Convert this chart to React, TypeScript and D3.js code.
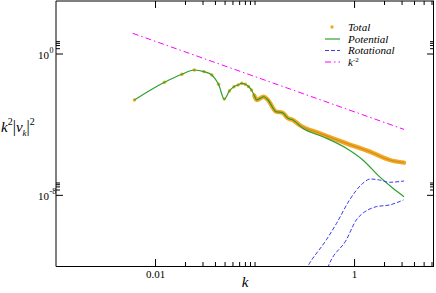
import React from 'react';
import * as d3 from 'd3';

// spectra (k, k^2 |v_k|^2)
const kTotal = [0.00614, 0.0123, 0.0184, 0.0245, 0.0307, 0.0368, 0.043, 0.0491, 0.0552, 0.0614, 0.0675,
  0.0736, 0.0798, 0.0859, 0.092, 0.0982, 0.104, 0.122, 0.135, 0.163, 0.188, 0.214, 0.24, 0.28, 0.445,
  0.826, 1.42, 2.25, 3.14];
const vTotal = [2.5e-3, 0.025, 0.071, 0.124, 0.1, 0.065, 0.0193, 0.0028, 0.0081, 0.0141, 0.0176,
  0.022, 0.0193, 0.0145, 0.0092, 0.0045, 0.0025, 0.0038, 0.0025, 5.4e-4, 4.8e-4, 2.3e-4, 1.84e-4, 9.6e-5, 3.25e-5,
  8.8e-6, 2.96e-6, 1.0e-6, 7.05e-7];

const kPotTail = [0.302, 0.48, 0.826, 1.21, 1.78, 2.43, 3.14];
const vPotTail = [6.2e-5, 2.09e-5, 4.6e-6, 1.0e-6, 1.14e-7, 2.5e-8, 8.4e-9];

const kRotA = [0.322, 0.353, 0.52, 0.659, 0.891, 1.21, 1.44, 1.78, 2.25, 3.14];
const vRotA = [6e-13, 1.43e-12, 3.0e-11, 2.6e-10, 5.5e-9, 4.8e-8, 8.4e-8, 7.4e-8, 5.5e-8, 6.5e-8];
const kRotB = [0.536, 0.561, 0.826, 1.04, 1.21, 1.36, 1.65, 2.25, 3.1];
const vRotB = [7.7e-13, 1.43e-12, 3.0e-11, 4.0e-10, 9.7e-10, 1.49e-9, 2.28e-9, 2.85e-9, 5.5e-9];

const kRef = [0.0059, 3.14];
const vRef = [14.8, 5.4e-5];

const xMajor = [0.01, 1];
const xMajorLabels = ['0.01', '1'];
const xMinor = [0.02, 0.03, 0.04, 0.05, 0.06, 0.07, 0.08, 0.09, 0.1, 2, 3, 4, 5, 6];
const yMajor = [1, 1e-8];
const yMajorExp = ['0', '-8'];
const yMinor = [2, 3, 4, 5, 2e-8, 3e-8, 4e-8, 5e-8];

const legendItems = ['Total', 'Potential', 'Rotational', 'k'];

const ORANGE = '#f5a623';
const GREEN = '#2ca02c';
const BLUE = '#3a3aee';
const MAGENTA = '#ff00ff';

export default function App() {
  const W = 436, H = 293;
  const L = 56, R = 434, T = 1, B = 266;
  const x = d3.scaleLog().domain([0.001, 2 * Math.PI]).range([L, R]);
  const y = d3.scaleLog().domain([1e-12, 1e3]).range([B, T]);

  const pts = (ks: number[], vs: number[]) => ks.map((k, i) => [x(k), y(vs[i])] as [number, number]);
  const line = d3.line().curve(d3.curveMonotoneX);
  const straight = d3.line();

  const total = pts(kTotal, vTotal);
  const splitIdx = kTotal.indexOf(0.24);
  const potential = [...total.slice(0, splitIdx + 1), ...pts(kPotTail, vPotTail)];
  const band = total.slice(kTotal.indexOf(0.0982));
  const sparse = total.slice(0, kTotal.indexOf(0.0982));

  const serif = '"Liberation Serif", "DejaVu Serif", serif';

  return (
    <svg width={W} height={H} style={{ position: 'absolute', left: 0, top: 0, background: '#fff' }}
      fontFamily={serif}>
      <defs>
        <clipPath id="plot">
          <rect x={L} y={T} width={R - L} height={B - T} />
        </clipPath>
      </defs>

      <g clipPath="url(#plot)" fill="none">
        <path d={straight(pts(kRef, vRef)) || ''} stroke={MAGENTA} strokeWidth={1} strokeDasharray="6,3,1.5,3" />
        <path d={line(band) || ''} stroke={ORANGE} strokeWidth={4.4} strokeLinecap="round" strokeLinejoin="round" />
        <path d={line(band) || ''} stroke="#b8861a" strokeWidth={0.8} />
        {sparse.map((p, i) => (
          <circle key={i} cx={p[0]} cy={p[1]} r={1.7} fill={ORANGE} />
        ))}
        <path d={line(potential) || ''} stroke={GREEN} strokeWidth={1.2} />
        <path d={line(pts(kRotA, vRotA)) || ''} stroke={BLUE} strokeWidth={1} strokeDasharray="4,2" />
        <path d={line(pts(kRotB, vRotB)) || ''} stroke={BLUE} strokeWidth={1} strokeDasharray="4,2" />
      </g>

      {/* frame */}
      <line x1={L} x2={L} y1={T} y2={B + 0.5} stroke="#000" />
      <line x1={L} x2={R} y1={T} y2={T} stroke="#000" />
      <line x1={L} x2={R} y1={B + 0.5} y2={B + 0.5} stroke="#000" />
      <line x1={R - 0.5} x2={R - 0.5} y1={T} y2={B + 0.5} stroke="#000" />

      {/* x ticks */}
      {xMajor.map((t, i) => (
        <g key={'xM' + i}>
          <line x1={x(t)} x2={x(t)} y1={B} y2={B - 7} stroke="#000" />
          <line x1={x(t)} x2={x(t)} y1={T} y2={T + 7} stroke="#000" />
          <text x={x(t)} y={278} fontSize={11} textAnchor="middle">{xMajorLabels[i]}</text>
        </g>
      ))}
      {xMinor.map((t, i) => (
        <g key={'xm' + i}>
          <line x1={x(t)} x2={x(t)} y1={B} y2={B - 4} stroke="#000" />
          <line x1={x(t)} x2={x(t)} y1={T} y2={T + 4} stroke="#000" />
        </g>
      ))}

      {/* y ticks */}
      {yMajor.map((t, i) => (
        <g key={'yM' + i}>
          <line x1={L} x2={L + 7} y1={y(t)} y2={y(t)} stroke="#000" />
          <line x1={R} x2={R - 7} y1={y(t)} y2={y(t)} stroke="#000" />
          <text x={49} y={y(t) + 5} fontSize={11} textAnchor="end">10</text>
          <text x={49.5} y={y(t) - 1} fontSize={8}>{yMajorExp[i]}</text>
        </g>
      ))}
      {yMinor.map((t, i) => (
        <g key={'ym' + i}>
          <line x1={L} x2={L + 4} y1={y(t)} y2={y(t)} stroke="#000" />
          <line x1={R} x2={R - 4} y1={y(t)} y2={y(t)} stroke="#000" />
        </g>
      ))}

      {/* axis titles */}
      <text x={245} y={287} fontSize={15} fontStyle="italic" textAnchor="middle">k</text>
      <text x={1} y={132} fontSize={15}>
        <tspan fontStyle="italic">k</tspan>
        <tspan fontSize={10} dy={-7}>2</tspan>
        <tspan dy={7} fontSize={16}>|</tspan>
        <tspan fontStyle="italic">v</tspan>
        <tspan fontSize={9} fontStyle="italic" dy={4}>k</tspan>
        <tspan dy={-4} fontSize={16}>|</tspan>
        <tspan fontSize={10} dy={-7}>2</tspan>
      </text>

      {/* legend */}
      <g fontSize={11} fontStyle="italic">
        <circle cx={332} cy={27} r={1.7} fill={ORANGE} />
        <line x1={325} x2={340} y1={39} y2={39} stroke={GREEN} strokeWidth={1.2} />
        <line x1={325} x2={340} y1={50.5} y2={50.5} stroke={BLUE} strokeDasharray="4,2" />
        <line x1={325} x2={340} y1={62} y2={62} stroke={MAGENTA} strokeDasharray="6,3,1.5,3" />
        {legendItems.map((s, i) => (
          <text key={s} x={348} y={31 + i * 11.7}>
            {s}
            {i === 3 ? <tspan fontSize={7} fontStyle="normal" dy={-4}>-2</tspan> : null}
          </text>
        ))}
      </g>
    </svg>
  );
}
